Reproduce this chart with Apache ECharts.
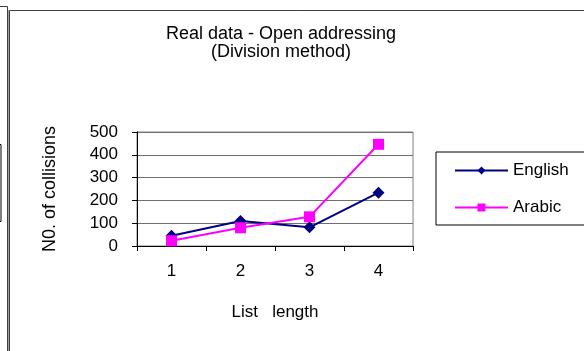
<!DOCTYPE html>
<html>
<head>
<meta charset="utf-8">
<script src="https://cdn.jsdelivr.net/npm/echarts@6/dist/echarts.min.js"></script>
<style>
html,body{margin:0;padding:0;background:#fff;}
#chart{width:584px;height:351px;}
</style>
</head>
<body>
<div id="chart"></div>
<script>
var categories = ['1', '2', '3', '4'];
var englishValues = [45, 110, 82, 234];
var arabicValues = [23, 80, 128, 446];
var yTicks = [0, 100, 200, 300, 400, 500];
var titleLines = ['Real data - Open addressing', '(Division method)'];

var FONT = 'Liberation Sans, Arial, sans-serif';
var chart = echarts.init(document.getElementById('chart'), null, {renderer: 'canvas'});
chart.setOption({
  backgroundColor: '#ffffff',
  animation: false,
  grid: {left: 137, right: 171, top: 132, bottom: 105, show: true, borderColor: '#808080', borderWidth: 1, containLabel: false},
  graphic: [
    {type: 'text', style: {text: titleLines[0], x: 281, y: 34, textAlign: 'center', textVerticalAlign: 'middle', font: '18px ' + FONT, fill: '#000'}},
    {type: 'text', style: {text: titleLines[1], x: 281, y: 52, textAlign: 'center', textVerticalAlign: 'middle', font: '18px ' + FONT, fill: '#000'}},
    {type: 'polyline', shape: {points: [[0, 6.5], [7.5, 6.5], [7.5, 352]]}, style: {stroke: '#404040', lineWidth: 1, fill: null}},
    {type: 'polyline', shape: {points: [[9.5, 352], [9.5, 10.5], [590, 10.5]]}, style: {stroke: '#404040', lineWidth: 1, fill: null}},
    {type: 'line', shape: {x1: 8.5, y1: 10, x2: 8.5, y2: 352}, style: {stroke: '#a0a0a0', lineWidth: 1}},
    {type: 'rect', shape: {x: -3, y: 144.5, width: 4, height: 77}, style: {stroke: '#000', lineWidth: 1, fill: null}}
  ],
  legend: {
    orient: 'vertical',
    left: 436, top: 152,
    padding: [10, 30, 9, 18],
    itemWidth: 53, itemHeight: 10, itemGap: 20,
    borderColor: '#000', borderWidth: 1,
    textStyle: {fontFamily: FONT, fontSize: 17, color: '#000'},
    data: ['English', 'Arabic']
  },
  xAxis: {
    type: 'category',
    data: categories,
    boundaryGap: true,
    name: 'List   length',
    nameLocation: 'middle',
    nameGap: 58,
    nameTextStyle: {fontFamily: FONT, fontSize: 17, color: '#000'},
    axisLine: {show: true, lineStyle: {color: '#000', width: 1}},
    axisTick: {show: true, alignWithLabel: false, length: 5, lineStyle: {color: '#000'}},
    axisLabel: {fontFamily: FONT, fontSize: 17, color: '#000', margin: 17},
    splitLine: {show: false}
  },
  yAxis: {
    type: 'value',
    min: yTicks[0], max: yTicks[yTicks.length - 1], interval: 100,
    name: 'N0. of collisions',
    nameLocation: 'middle',
    nameRotate: 90,
    nameGap: 78,
    nameTextStyle: {fontFamily: FONT, fontSize: 18, color: '#000'},
    axisLine: {show: true, lineStyle: {color: '#000', width: 1}},
    axisTick: {show: true, length: 5, lineStyle: {color: '#000'}},
    axisLabel: {fontFamily: FONT, fontSize: 17, color: '#000', margin: 19},
    splitLine: {show: true, lineStyle: {color: '#707070', width: 1}}
  },
  series: [
    {
      name: 'English', type: 'line', data: englishValues,
      symbol: 'diamond', symbolSize: 12,
      lineStyle: {color: '#000080', width: 2},
      itemStyle: {color: '#000080', borderWidth: 0},
      z: 2
    },
    {
      name: 'Arabic', type: 'line', data: arabicValues,
      symbol: 'rect', symbolSize: 11,
      lineStyle: {color: '#ff00ff', width: 2},
      itemStyle: {color: '#ff00ff', borderWidth: 0},
      z: 3
    }
  ]
});
</script>
</body>
</html>
